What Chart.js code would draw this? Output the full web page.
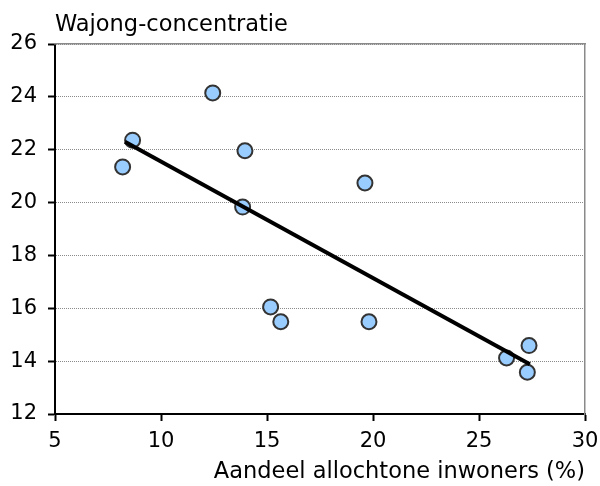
<!DOCTYPE html>
<html>
<head>
<meta charset="utf-8">
<script src="https://cdn.jsdelivr.net/npm/chart.js@4"></script>
<style>
  html, body { margin: 0; padding: 0; background: #fff; }
  #wrap { width: 600px; height: 486px; }
</style>
</head>
<body>
<div id="wrap"><canvas id="chart"></canvas></div>
<script>
// Aandeel allochtone inwoners (%) vs Wajong-concentratie
const xValues = [8.19, 8.66, 12.44, 13.96, 13.85, 19.62, 15.17, 15.65, 19.81, 26.3, 27.36, 27.28];
const yValues = [21.35, 22.36, 24.15, 21.96, 19.83, 20.74, 16.05, 15.49, 15.49, 14.12, 14.59, 13.58];

// trendlijn (begin- en eindpunt)
const trendX = [8.3, 27.4];
const trendY = [22.3, 13.88];

const xTicks = [5, 10, 15, 20, 25, 30];
const yTicks = [12, 14, 16, 18, 20, 22, 24, 26];

const fontFamily = '"DejaVu Sans", Verdana, sans-serif';

const ctx = document.getElementById('chart').getContext('2d');

new Chart(ctx, {
    type: 'scatter',
    data: {
        datasets: [
            {
                label: 'Trend',
                data: trendX.map((x, i) => ({x: x, y: trendY[i]})),
                showLine: true,
                borderColor: '#000',
                borderWidth: 4,
                pointRadius: 0,
                order: 0
            },
            {
                label: 'Gemeenten',
                data: xValues.map((x, i) => ({x: x, y: yValues[i]})),
                backgroundColor: '#99ccff',
                borderColor: '#333',
                borderWidth: 2,
                pointRadius: 7.5,
                order: 1
            }
        ]
    },
    options: {
        responsive: true,
        maintainAspectRatio: false,
        animation: false,
        layout: {
            padding: { top: 1, right: 15, left: 0, bottom: 0 }
        },
        plugins: {
            legend: { display: false },
            tooltip: { enabled: false },
            title: {
                display: true,
                text: 'Wajong-concentratie',
                align: 'start',
                fullSize: false,
                color: '#000',
                font: { family: fontFamily, size: 22.5, weight: 'normal' },
                padding: { top: 11, bottom: 5 }
            }
        },
        scales: {
            x: {
                type: 'linear',
                min: 5,
                max: 30,
                afterBuildTicks: scale => { scale.ticks = xTicks.map(v => ({value: v})); },
                afterFit: scale => {
                    scale.height = 72;
                    scale.paddingLeft = 0;
                    scale.paddingRight = 0;
                },
                ticks: {
                    color: '#000',
                    padding: 8,
                    maxRotation: 0,
                    font: { family: fontFamily, size: 21 }
                },
                grid: {
                    drawOnChartArea: false,
                    tickLength: 7,
                    tickColor: '#000',
                    tickWidth: 2
                },
                border: { color: '#000', width: 2 },
                title: {
                    display: true,
                    text: 'Aandeel allochtone inwoners (%)',
                    align: 'end',
                    color: '#000',
                    font: { family: fontFamily, size: 22.5 },
                    padding: { top: 0, bottom: 0 }
                }
            },
            y: {
                type: 'linear',
                min: 12,
                max: 26,
                afterBuildTicks: scale => { scale.ticks = yTicks.map(v => ({value: v})); },
                afterFit: scale => { scale.width = 55; },
                ticks: {
                    color: '#000',
                    padding: 11,
                    font: { family: fontFamily, size: 21 }
                },
                grid: {
                    color: '#8a8a8a',
                    lineWidth: 1,
                    tickLength: 7,
                    tickColor: '#000',
                    tickWidth: 2
                },
                border: { color: '#000', width: 2, dash: [1, 1] }
            },
            xTop: {
                type: 'linear',
                position: 'top',
                min: 5,
                max: 30,
                afterFit: scale => {
                    scale.height = 0;
                    scale.paddingLeft = 0;
                    scale.paddingRight = 0;
                },
                ticks: { display: false },
                grid: { display: false },
                border: { color: '#8a8a8a', width: 1.5 }
            },
            yRight: {
                type: 'linear',
                position: 'right',
                min: 12,
                max: 26,
                afterFit: scale => { scale.width = 0; },
                ticks: { display: false },
                grid: { display: false },
                border: { color: '#8a8a8a', width: 1.5 }
            }
        }
    }
});
</script>
</body>
</html>
